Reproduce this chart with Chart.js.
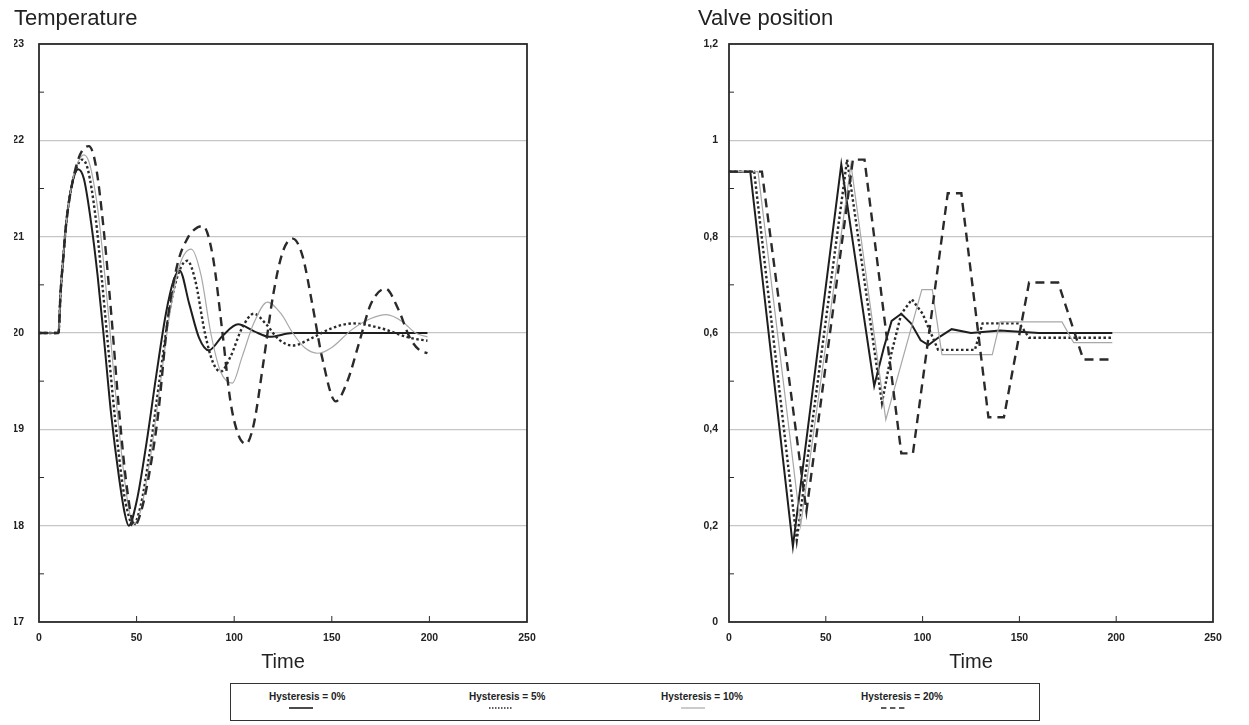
<!DOCTYPE html>
<html>
<head>
<meta charset="utf-8">
<script src="https://cdn.jsdelivr.net/npm/chart.js@4/dist/chart.umd.min.js"></script>
<style>
  body { margin: 0; background: #fff; width: 1249px; height: 725px; position: relative; overflow: hidden; }
  #tempBox { position: absolute; left: 0; top: 0; }
  #valveBox { position: absolute; left: 640px; top: 0; }
  #legend {
    position: absolute; left: 230px; top: 683px; width: 810px; height: 38px;
    box-sizing: border-box; border: 1.5px solid #333; background: #fff;
    font-family: "Liberation Sans", Arial, sans-serif;
  }
  .item { position: absolute; top: 7px; font-size: 10px; font-weight: bold; color: #222; white-space: nowrap; }
  .item svg { position: absolute; left: 20px; top: 15px; }
</style>
</head>
<body>
<div id="tempBox"><canvas id="tempChart" width="600" height="680"></canvas></div>
<div id="valveBox"><canvas id="valveChart" width="609" height="680"></canvas></div>
<div id="legend"></div>
<script>
'use strict';

const seriesLabels = ['Hysteresis = 0%', 'Hysteresis = 5%', 'Hysteresis = 10%', 'Hysteresis = 20%'];

// temperature, hysteresis 0 / 5 / 10 / 20 %
const tempTime0 = [0, 10, 11, 12.5, 14, 16, 18, 20, 23, 27, 30, 33, 37, 41, 44, 46, 50, 55, 60, 65, 69, 72, 77, 82, 87, 94, 102, 110, 118, 130, 150, 175, 199];
const temp0 = [20, 20, 20.4, 20.8, 21.15, 21.45, 21.63, 21.7, 21.6, 21.1, 20.6, 20.0, 19.15, 18.5, 18.12, 18.0, 18.25, 18.85, 19.55, 20.2, 20.55, 20.65, 20.3, 19.95, 19.82, 19.97, 20.09, 20.02, 19.96, 20.0, 20.0, 20.0, 20.0];

const tempTime5 = [0, 10, 11, 12.5, 14, 16, 19, 22, 25, 29, 32, 35, 39, 43, 46, 48, 52, 57, 62, 67, 72, 76, 80, 85, 89, 93, 98, 104, 110, 116, 123, 130, 140, 150, 161, 175, 190, 199];
const temp5 = [20, 20, 20.4, 20.8, 21.15, 21.45, 21.7, 21.8, 21.7, 21.2, 20.6, 19.95, 19.1, 18.4, 18.1, 18.0, 18.2, 18.8, 19.55, 20.25, 20.65, 20.75, 20.55, 20.0, 19.7, 19.6, 19.75, 20.05, 20.2, 20.1, 19.93, 19.87, 19.95, 20.05, 20.1, 20.05, 19.95, 19.92];

const tempTime10 = [0, 10, 11, 12.5, 14, 16, 19, 23, 26, 30, 33, 36, 40, 44, 47, 48.5, 52, 57, 62, 67, 72, 78, 83, 88, 93, 99, 104, 110, 117, 124, 130, 136, 143, 150, 160, 170, 178, 186, 193, 199];
const temp10 = [20, 20, 20.4, 20.8, 21.15, 21.45, 21.72, 21.85, 21.75, 21.3, 20.75, 20.1, 19.2, 18.45, 18.08, 18.02, 18.15, 18.7, 19.45, 20.2, 20.7, 20.87, 20.6, 20.0, 19.6, 19.48, 19.75, 20.1, 20.32, 20.2, 20.0, 19.85, 19.79, 19.85, 20.03, 20.15, 20.19, 20.12, 20.0, 19.96];

const tempTime20 = [0, 10, 11, 12.5, 14, 17, 21, 25.5, 29, 33, 37, 41, 45, 49, 53, 57, 61, 66, 71, 76, 80, 84, 89, 94, 98, 102, 106, 110, 115, 120, 125, 130, 135, 140, 145, 152, 158, 164, 170, 177.5, 184, 190, 195, 199];
const temp20 = [20, 20, 20.4, 20.8, 21.15, 21.55, 21.85, 21.94, 21.75, 21.1, 20.2, 19.2, 18.4, 18.0, 18.2, 18.6, 19.15, 20.15, 20.72, 20.98, 21.08, 21.11, 20.8, 20.0, 19.3, 18.95, 18.85, 19.05, 19.7, 20.4, 20.85, 20.98, 20.8, 20.3, 19.75, 19.29, 19.5, 19.9, 20.3, 20.46, 20.25, 19.95, 19.82, 19.79];

// valve position, hysteresis 0 / 5 / 10 / 20 %
const valveTime0 = [0, 11, 33, 58, 75, 80, 84, 89, 94, 99, 103, 108, 115, 125, 140, 160, 180, 198];
const valve0 = [0.935, 0.935, 0.157, 0.95, 0.49, 0.57, 0.625, 0.64, 0.62, 0.585, 0.575, 0.59, 0.608, 0.6, 0.605, 0.6, 0.6, 0.6];

const valveTime5 = [0, 13, 35, 61, 79, 84, 89, 94.5, 100, 108, 127, 131, 150, 155, 160, 198];
const valve5 = [0.935, 0.935, 0.17, 0.96, 0.455, 0.56, 0.64, 0.67, 0.64, 0.565, 0.565, 0.62, 0.62, 0.59, 0.59, 0.59];

const valveTime10 = [0, 15, 37, 63, 81, 99.6, 105, 110, 136, 140, 172, 178, 198];
const valve10 = [0.935, 0.935, 0.2, 0.95, 0.42, 0.69, 0.69, 0.555, 0.555, 0.623, 0.623, 0.58, 0.58];

const valveTime20 = [0, 17, 40, 64, 70, 89, 95, 113, 120, 134, 142, 155, 170, 183, 198];
const valve20 = [0.935, 0.935, 0.23, 0.96, 0.96, 0.35, 0.35, 0.89, 0.89, 0.425, 0.425, 0.705, 0.705, 0.545, 0.545];

// line styles per hysteresis level
const lineStyles = [
  { color: '#1e1e1e', width: 2, dash: [] },
  { color: '#2a2a2a', width: 2.4, dash: [2.5, 2.5] },
  { color: '#a8a8a8', width: 1.2, dash: [] },
  { color: '#2a2a2a', width: 2.4, dash: [9, 6] }
];

const FONT = '"Liberation Sans", Arial, Helvetica, sans-serif';

function points(xs, ys) {
  return xs.map(function (x, i) { return { x: x, y: ys[i] }; });
}

function makeSets(pairs, smooth) {
  return pairs.map(function (p, i) {
    const s = lineStyles[i];
    return {
      label: seriesLabels[i],
      data: points(p[0], p[1]),
      borderColor: s.color,
      borderWidth: s.width,
      borderDash: s.dash,
      pointRadius: 0,
      fill: false,
      tension: smooth ? 0.4 : 0,
      cubicInterpolationMode: smooth ? 'monotone' : 'default',
      order: 3 - i
    };
  });
}

// box around the plot + small inward tick marks
const framePlugin = {
  id: 'frame',
  afterDraw(chart) {
    const ctx = chart.ctx;
    const a = chart.chartArea;
    const xs = chart.scales.x, ys = chart.scales.y;
    ctx.save();
    ctx.strokeStyle = '#2b2b2b';
    ctx.lineWidth = 1;
    ctx.beginPath();
    const yt = ys.ticks;
    for (let i = 0; i < yt.length - 1; i++) {
      const py = ys.getPixelForValue((yt[i].value + yt[i + 1].value) / 2);
      ctx.moveTo(a.left, py); ctx.lineTo(a.left + 5, py);
    }
    xs.ticks.forEach(function (t) {
      if (t.value <= xs.min || t.value >= xs.max) return;
      const px = xs.getPixelForValue(t.value);
      ctx.moveTo(px, a.bottom); ctx.lineTo(px, a.bottom - 6);
    });
    ctx.stroke();
    ctx.lineWidth = 1.8;
    ctx.strokeRect(a.left, a.top, a.right - a.left, a.bottom - a.top);
    ctx.restore();
  }
};

function makeOptions(title, padLeft, padRight, yWidth, yMin, yMax, yStep, yFmt, yPad) {
  return {
    responsive: false,
    animation: false,
    layout: { padding: { left: padLeft, right: padRight, top: 0, bottom: 0 } },
    plugins: {
      legend: { display: false },
      tooltip: { enabled: false },
      title: {
        display: true, text: title, align: 'start', color: '#222',
        font: { family: FONT, size: 22, weight: 'normal', lineHeight: 1.2 },
        padding: { top: 6, bottom: 11.6 }
      }
    },
    scales: {
      x: {
        type: 'linear', min: 0, max: 250,
        afterFit: function (s) { s.height = 58; },
        grid: { display: false, drawTicks: false },
        border: { display: false },
        ticks: { stepSize: 50, padding: 10, color: '#222', font: { family: FONT, size: 10.5, weight: 'bold' } },
        title: {
          display: true, text: 'Time', color: '#222',
          font: { family: FONT, size: 20, lineHeight: 1.2 },
          padding: { top: 0, bottom: 6 }
        }
      },
      y: {
        min: yMin, max: yMax,
        afterFit: function (s) { s.width = yWidth; },
        grid: { color: '#c6c6c6', lineWidth: 1.3, drawTicks: false },
        border: { display: false },
        ticks: { stepSize: yStep, padding: yPad, color: '#222', font: { family: FONT, size: 10.5, weight: 'bold' }, callback: yFmt }
      }
    }
  };
}

new Chart(document.getElementById('tempChart').getContext('2d'), {
  type: 'line',
  data: {
    datasets: makeSets([[tempTime0, temp0], [tempTime5, temp5], [tempTime10, temp10], [tempTime20, temp20]], true)
  },
  options: makeOptions('Temperature', 14, 73, 25, 17, 23, 1, function (v) { return String(v); }, 15),
  plugins: [framePlugin]
});

new Chart(document.getElementById('valveChart').getContext('2d'), {
  type: 'line',
  data: {
    datasets: makeSets([[valveTime0, valve0], [valveTime5, valve5], [valveTime10, valve10], [valveTime20, valve20]], false)
  },
  options: makeOptions('Valve position', 58, 36, 31, 0, 1.2, 0.2, function (v) {
    return String(Math.round(v * 10) / 10).replace('.', ',');
  }, 11),
  plugins: [framePlugin]
});

// legend box under both charts
const legendLeft = [38, 238, 430, 630];
const legend = document.getElementById('legend');
seriesLabels.forEach(function (name, i) {
  const s = lineStyles[i];
  const item = document.createElement('div');
  item.className = 'item';
  item.style.left = legendLeft[i] + 'px';
  item.textContent = name;
  const svgNS = 'http://www.w3.org/2000/svg';
  const svg = document.createElementNS(svgNS, 'svg');
  svg.setAttribute('width', '24');
  svg.setAttribute('height', '4');
  const ln = document.createElementNS(svgNS, 'line');
  ln.setAttribute('x1', '0'); ln.setAttribute('y1', '2');
  ln.setAttribute('x2', '24'); ln.setAttribute('y2', '2');
  ln.setAttribute('stroke', s.color);
  ln.setAttribute('stroke-width', String(Math.min(s.width, 1.6)));
  if (s.dash.length) ln.setAttribute('stroke-dasharray', s.dash.map(function (d) { return d * 0.6; }).join(' '));
  svg.appendChild(ln);
  item.appendChild(svg);
  legend.appendChild(item);
});
</script>
</body>
</html>
